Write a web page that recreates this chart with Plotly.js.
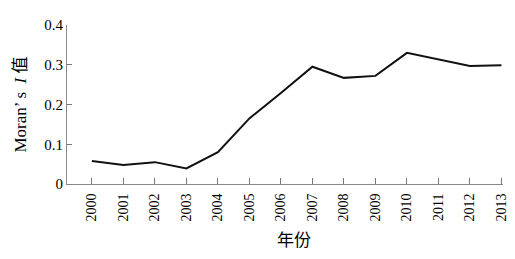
<!DOCTYPE html>
<html><head><meta charset="utf-8">
<script src="https://cdn.plot.ly/plotly-3.0.1.min.js"></script>
<style>html,body{margin:0;padding:0;background:#fff}#c{width:515px;height:259px}</style>
</head><body><div id="c"></div>
<script>
const years = [2000,2001,2002,2003,2004,2005,2006,2007,2008,2009,2010,2011,2012,2013];
const moranI = [0.058,0.048,0.055,0.039,0.080,0.165,0.229,0.295,0.267,0.272,0.330,0.314,0.297,0.299];
const yTickVals = [0,0.1,0.2,0.3,0.4];
const yTickText = ['0','0.1','0.2','0.3','0.4'];

const serif = '"Liberation Serif","Times New Roman","Noto Sans CJK SC",serif';
Plotly.newPlot('c',[{
  x: years, y: moranI, type:'scatter', mode:'lines',
  line:{color:'#111',width:2}, hoverinfo:'none'
}],{
  width:515,height:259,
  margin:{l:67,r:12,t:25,b:75},
  paper_bgcolor:'#fff',plot_bgcolor:'#fff',
  showlegend:false,
  font:{family:serif,color:'#000',size:14},
  xaxis:{
    range:[1999.21,2013.05], tickmode:'array', tickvals:years, ticktext:years.map(String),
    tickangle:-90, ticks:'inside', ticklen:6, tickcolor:'#777', tickwidth:1,
    ticklabelstandoff:3,
    showline:true, linecolor:'#888', linewidth:1, showgrid:false, zeroline:false,
    tickfont:{family:serif,size:14,color:'#000'}
  },
  yaxis:{
    range:[0,0.4], tickmode:'array', tickvals:yTickVals, ticktext:yTickText,
    ticks:'inside', ticklen:5, tickcolor:'#777', tickwidth:1,
    showline:true, linecolor:'#888', linewidth:1, showgrid:false, zeroline:false,
    tickfont:{family:serif,size:15,color:'#000'},
    title:{text:'Moran’ s  <i>I</i> 值',font:{family:serif,size:17,color:'#000'},standoff:13}
  },
  annotations:[{
    text:'年份', xref:'paper', yref:'paper', x:0.52, y:0, yshift:-54,
    xanchor:'center', yanchor:'middle', showarrow:false,
    font:{family:'"Noto Sans CJK SC",serif',size:17,color:'#000'}
  }]
},{staticPlot:true,displayModeBar:false});
</script></body></html>
